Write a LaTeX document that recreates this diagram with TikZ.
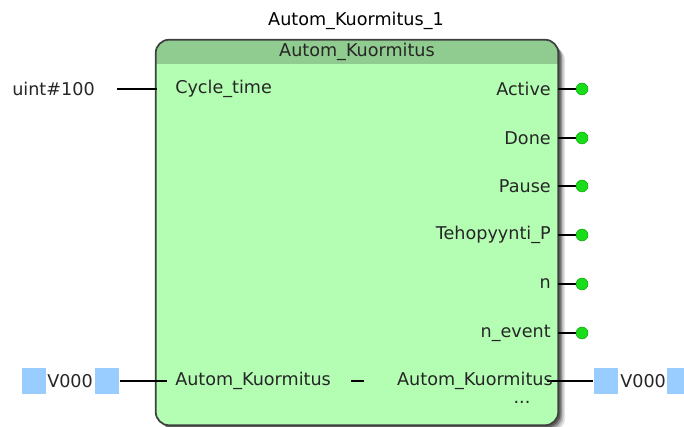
\documentclass[tikz,border=0pt]{standalone}
\usepackage{fontspec}
\setmainfont{DejaVu Sans}
\begin{document}
\begin{tikzpicture}[x=0.75pt,y=-0.75pt,
  lbl/.style={inner sep=0pt, font=\fontsize{13.2}{15}\selectfont, text=black!85},
  wire/.style={draw=black, line width=0.9pt},
  dotpin/.style={circle, fill=green!85!black!90, draw=green!60!black, line width=0.3pt, minimum size=9pt, inner sep=0pt},
  bluesq/.style={rectangle, fill=bsq, minimum width=18.5pt, minimum height=19.5pt, inner sep=0pt}
]
\definecolor{bsq}{RGB}{153,204,255}
\definecolor{bodyg}{RGB}{180,254,180}
\definecolor{headg}{RGB}{144,204,144}
\useasboundingbox (0,0) rectangle (684,427);
\fill[white] (0,0) rectangle (684,427);
% shadow
\foreach \o/\a in {7/0.10,5.5/0.15,4/0.25,2.5/0.35}{
  \fill[black, opacity=\a, rounded corners=10] (156+\o,40+\o) rectangle (558+\o,425+\o);
}
% box
\node (fb) [fill=bodyg, rounded corners=10,
  minimum width=301.5pt, minimum height=288.75pt, inner sep=0pt] at (357,232.5) {};
\begin{scope}
  \clip[rounded corners=10] (156,40) rectangle (558,425);
  \fill[headg] (156,40) rectangle (558,64);
\end{scope}
\draw[black!75, line width=1.3pt, rounded corners=10] (fb.south west) rectangle (fb.north east);
% titles
\node (inst) [lbl, text=black] at (356,21) {Autom\_Kuormitus\_1};
\node (type) [lbl] at (357,52) {Autom\_Kuormitus};
% input Cycle_time
\node (uint) [lbl, anchor=west] at (12,89) {uint\#100};
\coordinate (uintw) at (117,89);
\coordinate (ctpin) at (157,89);
\node (ct) [lbl, anchor=west] at (175,89) {Cycle\_time};
\draw[wire] (uintw) -- (ctpin);
% outputs
\foreach \nm/\txt/\yy in {act/Active/89, done/Done/138, pause/Pause/186, teho/Tehopyynti\_P/235, n/n/284, nev/n\_event/333}{
  \node (\nm) [lbl, anchor=east] at (551,\yy) {\txt};
  \coordinate (\nm pin) at (558,\yy);
  \node (\nm dot) [dotpin] at (582,\yy) {};
  \draw[wire] (\nm pin) -- (\nm dot);
}
% in-out variable
\node (sqL1) [bluesq] at (34,381) {};
\node (vL) [lbl, anchor=west] at (47,381) {V000};
\node (sqL2) [bluesq] at (107,381) {};
\coordinate (inpin) at (167,381);
\node (akin) [lbl, anchor=west] at (175,381) {Autom\_Kuormitus};
\coordinate (dashA) at (351,381);
\coordinate (dashB) at (364,381);
\draw[wire] (dashA) -- (dashB);
\coordinate (outpin) at (547,381);
\node (sqR1) [bluesq] at (606,381) {};
\node (vR) [lbl, anchor=west] at (620,381) {V000};
\node (sqR2) [bluesq, anchor=west] at (667,381) {};
\draw[wire] (sqL2.east) -- (inpin);
\draw[wire] (outpin) -- (sqR1.west);
\node (akout) [lbl, anchor=east] at (553,381) {Autom\_Kuormitus};
\node (more) [lbl] at (522,402) {...};
\end{tikzpicture}
\end{document}
